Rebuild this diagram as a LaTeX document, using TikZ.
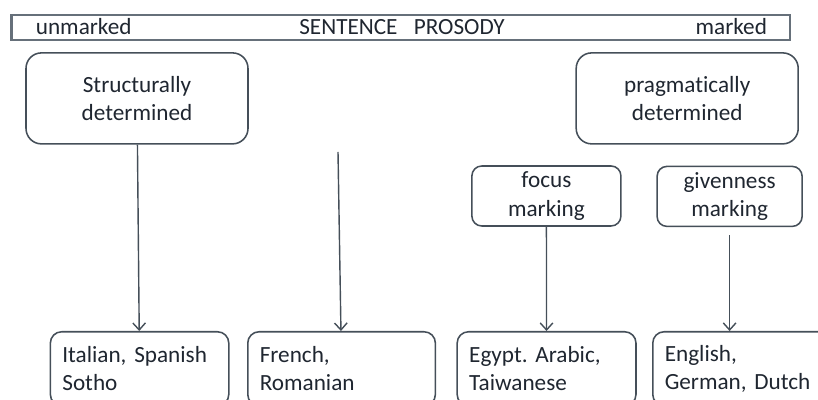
\documentclass[tikz,border=0pt]{standalone}
\usepackage{fontspec}
\setmainfont{Carlito}[Ligatures=NoCommon]
\usepackage{tikz}
\usetikzlibrary{arrows.meta}
\usetikzlibrary{positioning}
\definecolor{boxLine}{rgb}{0.27,0.31,0.35}
\definecolor{barLine}{rgb}{0.40,0.44,0.48}
\definecolor{inkGray}{rgb}{0.12,0.15,0.19}
\newcommand{\boxfont}{\fontsize{16.5}{20}\selectfont\frenchspacing\spaceskip=0.19em\relax}
\tikzstyle{frame} = [draw=boxLine, line width=1.1pt, text=inkGray, font=\boxfont]
\tikzstyle{level} = [frame, rounded corners=11pt, align=center,
        minimum width=5.55cm, minimum height=2.275cm]
\tikzstyle{sublevel} = [frame, rounded corners=7pt, align=center,
        minimum height=1.5cm]
\tikzstyle{lang} = [frame, rounded corners=8pt, align=left, anchor=north west,
        inner xsep=0.3cm, minimum height=1.85cm]
\tikzstyle{scalebar} = [draw=barLine, line width=2pt,
        minimum width=19.46cm, minimum height=0.625cm]
\tikzstyle{tag} = [text=inkGray, font={\fontsize{16.5}{20}\selectfont}, inner sep=0pt]
\tikzstyle{link} = [-{Straight Barb[length=5pt,width=9pt]}, draw=boxLine, line width=1pt]

\begin{document}
\begin{tikzpicture}
                \clip (0,0) rectangle (20.45,10);
                \draw
                    (10.02,9.31) node [scalebar] (bar) {}
                    (0.89,9.125) node [tag, anchor=base west] (unmarked) {unmarked}
                    (10.05,9.125) node [tag, anchor=base] (prosody) {SENTENCE\hspace{0.7em}PROSODY}
                    (19.18,9.125) node [tag, anchor=base east] (marked) {marked};

                \draw
                    (3.425,7.54) node [level] (struct) {Structurally\\determined}
                    +(13.755,0) node [level] (pragm) {pragmatically\\determined}
                    +(10.235,-2.44) node [sublevel, minimum width=3.725cm] (focus) {focus\\marking}
                    +(14.815,-2.45) node [sublevel, minimum width=3.625cm] (given) {givenness\\marking};

                \draw
                    (1.24,1.725) node [lang, text width=3.86cm] (italian) {Italian, Spanish\\Sotho}
                    +(4.935,0) node [lang, text width=4.09cm] (french) {French,\\Romanian}
                    +(10.17,0) node [lang, text width=3.87cm] (egypt) {Egypt. Arabic,\\Taiwanese}
                    +(15.06,0) node [lang, text width=3.9cm] (english) {English,\\German, Dutch};

                \coordinate (loose) at (8.45,6.2);

                \draw [link] (struct) -- (italian);
                \draw [link] (loose) -- (french);
                \draw [link] (focus) -- (egypt);
                \draw [link, shorten <=0.2cm] (given.south) -- (given.south |- english.north);
            \end{tikzpicture}
\end{document}
